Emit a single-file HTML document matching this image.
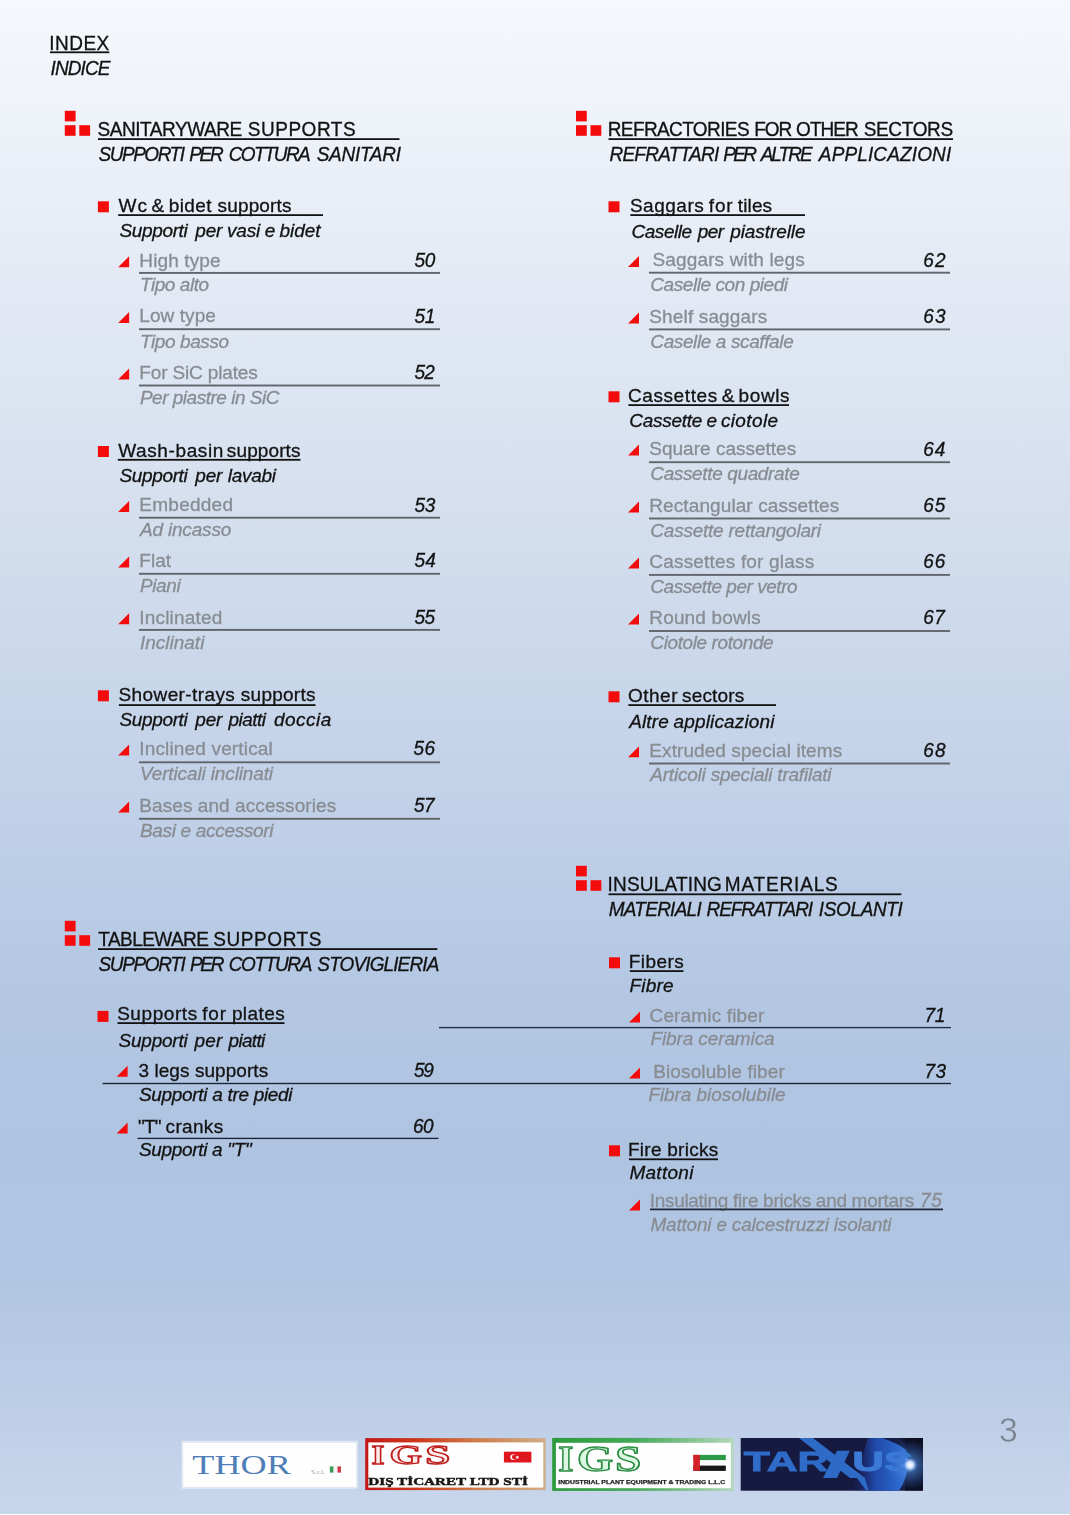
<!DOCTYPE html>
<html><head><meta charset="utf-8"><title>Index</title>
<style>
html,body{margin:0;padding:0}
body{width:1070px;height:1515px;position:relative;overflow:hidden;font-family:"Liberation Sans",sans-serif;background:#c8d6eb}
#bg{position:absolute;left:0;top:0;width:1070px;height:1515px;background:linear-gradient(to bottom,#f5f8fc 0px,#eef2f9 120px,#e2e9f4 300px,#d2dded 550px,#c1d1e8 800px,#b3c7e3 1000px,#afc4e1 1150px,#b1c6e2 1280px,#bccde6 1400px,#c9d7ec 1515px);}
.t{position:absolute;white-space:pre;font-weight:400;-webkit-text-stroke:0.3px currentColor}
.tri{position:absolute;left:0;top:0}
.tri path{fill:#f40c0c}
#pn{position:absolute;left:999.4px;top:1409.6px;font-size:35.7px;line-height:40px;color:#79818b;-webkit-text-stroke:0.55px #bdcee6;transform:scaleX(0.945);transform-origin:0 0}
#tx{position:absolute;left:0;top:0;width:1070px;height:1515px;will-change:transform}
</style></head><body>
<div id="bg"></div>
<div id="tx">
<div class="t" style="left:49.25px;top:33px;font-size:19px;line-height:21px;color:#121212;letter-spacing:0.469px;transform:scaleY(1.042);transform-origin:0 17px;">INDEX</div>
<div class="t" style="left:50.55px;top:58px;font-size:19px;line-height:21px;color:#121212;letter-spacing:-0.906px;transform:scaleY(1.042);transform-origin:0 17px;font-style:italic;">INDICE</div>
<div class="t" style="left:97.44px;top:119px;font-size:19px;line-height:21px;color:#121212;letter-spacing:-0.435px;transform:scaleY(1.042);transform-origin:0 17px;">SANITARYWARE</div>
<div class="t" style="left:247.84px;top:119px;font-size:19px;line-height:21px;color:#121212;letter-spacing:0.507px;transform:scaleY(1.042);transform-origin:0 17px;">SUPPORTS</div>
<div class="t" style="left:98.46px;top:144px;font-size:19px;line-height:21px;color:#121212;letter-spacing:-1.461px;transform:scaleY(1.042);transform-origin:0 17px;font-style:italic;">SUPPORTI</div>
<div class="t" style="left:189.22px;top:144px;font-size:19px;line-height:21px;color:#121212;letter-spacing:-2.305px;transform:scaleY(1.042);transform-origin:0 17px;font-style:italic;">PER</div>
<div class="t" style="left:228.75px;top:144px;font-size:19px;line-height:21px;color:#121212;letter-spacing:-1.660px;transform:scaleY(1.042);transform-origin:0 17px;font-style:italic;">COTTURA</div>
<div class="t" style="left:316.66px;top:144px;font-size:19px;line-height:21px;color:#121212;letter-spacing:-0.267px;transform:scaleY(1.042);transform-origin:0 17px;font-style:italic;">SANITARI</div>
<div class="t" style="left:118.62px;top:195px;font-size:19px;line-height:21px;color:#121212;letter-spacing:1.047px;">Wc</div>
<div class="t" style="left:151.53px;top:195px;font-size:19px;line-height:21px;color:#121212;letter-spacing:0.000px;">&amp;</div>
<div class="t" style="left:168.68px;top:195px;font-size:19px;line-height:21px;color:#121212;letter-spacing:0.440px;">bidet</div>
<div class="t" style="left:217.57px;top:195px;font-size:19px;line-height:21px;color:#121212;letter-spacing:0.149px;">supports</div>
<div class="t" style="left:119.46px;top:220px;font-size:19px;line-height:21px;color:#121212;letter-spacing:-0.353px;font-style:italic;">Supporti</div>
<div class="t" style="left:195.27px;top:220px;font-size:19px;line-height:21px;color:#121212;letter-spacing:-0.141px;font-style:italic;">per</div>
<div class="t" style="left:227.06px;top:220px;font-size:19px;line-height:21px;color:#121212;letter-spacing:-0.195px;font-style:italic;">vasi</div>
<div class="t" style="left:264.66px;top:220px;font-size:19px;line-height:21px;color:#121212;letter-spacing:0.000px;font-style:italic;">e</div>
<div class="t" style="left:279.43px;top:220px;font-size:19px;line-height:21px;color:#121212;letter-spacing:-0.023px;font-style:italic;">bidet</div>
<div class="t" style="left:139.30px;top:250px;font-size:19px;line-height:21px;color:#888c92;letter-spacing:0.120px;">High type</div>
<div class="t" style="left:414.57px;top:250px;font-size:19px;line-height:21px;color:#121212;letter-spacing:-0.456px;transform:scaleY(1.042);transform-origin:0 17px;font-style:italic;">50</div>
<div class="t" style="left:139.90px;top:274px;font-size:19px;line-height:21px;color:#888c92;letter-spacing:-0.439px;font-style:italic;">Tipo alto</div>
<div class="t" style="left:139.30px;top:305px;font-size:19px;line-height:21px;color:#888c92;letter-spacing:0.071px;">Low type</div>
<div class="t" style="left:414.57px;top:306px;font-size:19px;line-height:21px;color:#121212;letter-spacing:-0.400px;transform:scaleY(1.042);transform-origin:0 17px;font-style:italic;">51</div>
<div class="t" style="left:139.90px;top:331px;font-size:19px;line-height:21px;color:#888c92;letter-spacing:-0.398px;font-style:italic;">Tipo basso</div>
<div class="t" style="left:139.30px;top:362px;font-size:19px;line-height:21px;color:#888c92;letter-spacing:-0.153px;">For SiC plates</div>
<div class="t" style="left:414.57px;top:362px;font-size:19px;line-height:21px;color:#121212;letter-spacing:-0.936px;transform:scaleY(1.042);transform-origin:0 17px;font-style:italic;">52</div>
<div class="t" style="left:139.90px;top:387px;font-size:19px;line-height:21px;color:#888c92;letter-spacing:-0.491px;font-style:italic;">Per piastre in SiC</div>
<div class="t" style="left:118.22px;top:440px;font-size:19px;line-height:21px;color:#121212;letter-spacing:0.610px;">Wash-basin</div>
<div class="t" style="left:226.87px;top:440px;font-size:19px;line-height:21px;color:#121212;letter-spacing:0.106px;">supports</div>
<div class="t" style="left:119.46px;top:465px;font-size:19px;line-height:21px;color:#121212;letter-spacing:-0.353px;font-style:italic;">Supporti</div>
<div class="t" style="left:195.27px;top:465px;font-size:19px;line-height:21px;color:#121212;letter-spacing:-0.141px;font-style:italic;">per</div>
<div class="t" style="left:227.79px;top:465px;font-size:19px;line-height:21px;color:#121212;letter-spacing:-0.295px;font-style:italic;">lavabi</div>
<div class="t" style="left:139.30px;top:494px;font-size:19px;line-height:21px;color:#888c92;letter-spacing:0.260px;">Embedded</div>
<div class="t" style="left:414.57px;top:495px;font-size:19px;line-height:21px;color:#121212;letter-spacing:-0.447px;transform:scaleY(1.042);transform-origin:0 17px;font-style:italic;">53</div>
<div class="t" style="left:139.90px;top:519px;font-size:19px;line-height:21px;color:#888c92;letter-spacing:-0.172px;font-style:italic;">Ad incasso</div>
<div class="t" style="left:139.30px;top:550px;font-size:19px;line-height:21px;color:#888c92;letter-spacing:0.051px;">Flat</div>
<div class="t" style="left:414.57px;top:550px;font-size:19px;line-height:21px;color:#121212;letter-spacing:0.101px;transform:scaleY(1.042);transform-origin:0 17px;font-style:italic;">54</div>
<div class="t" style="left:139.90px;top:575px;font-size:19px;line-height:21px;color:#888c92;letter-spacing:-0.344px;font-style:italic;">Piani</div>
<div class="t" style="left:139.30px;top:607px;font-size:19px;line-height:21px;color:#888c92;letter-spacing:0.176px;">Inclinated</div>
<div class="t" style="left:414.57px;top:607px;font-size:19px;line-height:21px;color:#121212;letter-spacing:-0.660px;transform:scaleY(1.042);transform-origin:0 17px;font-style:italic;">55</div>
<div class="t" style="left:139.90px;top:632px;font-size:19px;line-height:21px;color:#888c92;letter-spacing:0.006px;font-style:italic;">Inclinati</div>
<div class="t" style="left:118.54px;top:684px;font-size:19px;line-height:21px;color:#121212;letter-spacing:0.393px;">Shower-trays</div>
<div class="t" style="left:240.87px;top:684px;font-size:19px;line-height:21px;color:#121212;letter-spacing:0.249px;">supports</div>
<div class="t" style="left:119.46px;top:709px;font-size:19px;line-height:21px;color:#121212;letter-spacing:-0.353px;font-style:italic;">Supporti</div>
<div class="t" style="left:195.27px;top:709px;font-size:19px;line-height:21px;color:#121212;letter-spacing:-0.141px;font-style:italic;">per</div>
<div class="t" style="left:228.57px;top:709px;font-size:19px;line-height:21px;color:#121212;letter-spacing:-0.568px;font-style:italic;">piatti</div>
<div class="t" style="left:274.06px;top:709px;font-size:19px;line-height:21px;color:#121212;letter-spacing:0.454px;font-style:italic;">doccia</div>
<div class="t" style="left:139.30px;top:738px;font-size:19px;line-height:21px;color:#888c92;letter-spacing:0.157px;">Inclined vertical</div>
<div class="t" style="left:413.57px;top:738px;font-size:19px;line-height:21px;color:#121212;letter-spacing:0.386px;transform:scaleY(1.042);transform-origin:0 17px;font-style:italic;">56</div>
<div class="t" style="left:139.90px;top:763px;font-size:19px;line-height:21px;color:#888c92;letter-spacing:-0.130px;font-style:italic;">Verticali inclinati</div>
<div class="t" style="left:139.30px;top:795px;font-size:19px;line-height:21px;color:#888c92;letter-spacing:0.075px;">Bases and accessories</div>
<div class="t" style="left:414.07px;top:795px;font-size:19px;line-height:21px;color:#121212;letter-spacing:-0.698px;transform:scaleY(1.042);transform-origin:0 17px;font-style:italic;">57</div>
<div class="t" style="left:139.90px;top:820px;font-size:19px;line-height:21px;color:#888c92;letter-spacing:-0.311px;font-style:italic;">Basi e accessori</div>
<div class="t" style="left:98.37px;top:929px;font-size:19px;line-height:21px;color:#121212;letter-spacing:-0.567px;transform:scaleY(1.042);transform-origin:0 17px;">TABLEWARE</div>
<div class="t" style="left:213.24px;top:929px;font-size:19px;line-height:21px;color:#121212;letter-spacing:0.578px;transform:scaleY(1.042);transform-origin:0 17px;">SUPPORTS</div>
<div class="t" style="left:98.46px;top:954px;font-size:19px;line-height:21px;color:#121212;letter-spacing:-1.361px;transform:scaleY(1.042);transform-origin:0 17px;font-style:italic;">SUPPORTI</div>
<div class="t" style="left:189.92px;top:954px;font-size:19px;line-height:21px;color:#121212;letter-spacing:-2.305px;transform:scaleY(1.042);transform-origin:0 17px;font-style:italic;">PER</div>
<div class="t" style="left:228.75px;top:954px;font-size:19px;line-height:21px;color:#121212;letter-spacing:-1.377px;transform:scaleY(1.042);transform-origin:0 17px;font-style:italic;">COTTURA</div>
<div class="t" style="left:317.36px;top:954px;font-size:19px;line-height:21px;color:#121212;letter-spacing:-0.880px;transform:scaleY(1.042);transform-origin:0 17px;font-style:italic;">STOVIGLIERIA</div>
<div class="t" style="left:117.14px;top:1003px;font-size:19px;line-height:21px;color:#121212;letter-spacing:0.572px;">Supports</div>
<div class="t" style="left:202.23px;top:1003px;font-size:19px;line-height:21px;color:#121212;letter-spacing:0.848px;">for</div>
<div class="t" style="left:231.88px;top:1003px;font-size:19px;line-height:21px;color:#121212;letter-spacing:0.422px;">plates</div>
<div class="t" style="left:118.46px;top:1030px;font-size:19px;line-height:21px;color:#121212;letter-spacing:-0.210px;font-style:italic;">Supporti</div>
<div class="t" style="left:194.57px;top:1030px;font-size:19px;line-height:21px;color:#121212;letter-spacing:0.209px;font-style:italic;">per</div>
<div class="t" style="left:228.57px;top:1030px;font-size:19px;line-height:21px;color:#121212;letter-spacing:-0.688px;font-style:italic;">piatti</div>
<div class="t" style="left:138.48px;top:1060px;font-size:19px;line-height:21px;color:#121212;letter-spacing:0.061px;">3 legs supports</div>
<div class="t" style="left:414.07px;top:1060px;font-size:19px;line-height:21px;color:#121212;letter-spacing:-1.324px;transform:scaleY(1.042);transform-origin:0 17px;font-style:italic;">59</div>
<div class="t" style="left:138.96px;top:1084px;font-size:19px;line-height:21px;color:#121212;letter-spacing:-0.310px;font-style:italic;">Supporti a tre piedi</div>
<div class="t" style="left:138.09px;top:1116px;font-size:19px;line-height:21px;color:#121212;letter-spacing:-0.898px;">&quot;T&quot;</div>
<div class="t" style="left:165.59px;top:1116px;font-size:19px;line-height:21px;color:#121212;letter-spacing:0.325px;">cranks</div>
<div class="t" style="left:412.93px;top:1116px;font-size:19px;line-height:21px;color:#121212;letter-spacing:-0.416px;transform:scaleY(1.042);transform-origin:0 17px;font-style:italic;">60</div>
<div class="t" style="left:138.96px;top:1139px;font-size:19px;line-height:21px;color:#121212;letter-spacing:-0.321px;font-style:italic;">Supporti a &quot;T&quot;</div>
<div class="t" style="left:607.74px;top:119px;font-size:19px;line-height:21px;color:#121212;letter-spacing:-0.608px;transform:scaleY(1.042);transform-origin:0 17px;">REFRACTORIES</div>
<div class="t" style="left:754.14px;top:119px;font-size:19px;line-height:21px;color:#121212;letter-spacing:-1.035px;transform:scaleY(1.042);transform-origin:0 17px;">FOR</div>
<div class="t" style="left:796.10px;top:119px;font-size:19px;line-height:21px;color:#121212;letter-spacing:-0.955px;transform:scaleY(1.042);transform-origin:0 17px;">OTHER</div>
<div class="t" style="left:863.64px;top:119px;font-size:19px;line-height:21px;color:#121212;letter-spacing:-0.330px;transform:scaleY(1.042);transform-origin:0 17px;">SECTORS</div>
<div class="t" style="left:609.42px;top:144px;font-size:19px;line-height:21px;color:#121212;letter-spacing:-0.730px;transform:scaleY(1.042);transform-origin:0 17px;font-style:italic;">REFRATTARI</div>
<div class="t" style="left:723.22px;top:144px;font-size:19px;line-height:21px;color:#121212;letter-spacing:-2.655px;transform:scaleY(1.042);transform-origin:0 17px;font-style:italic;">PER</div>
<div class="t" style="left:760.64px;top:144px;font-size:19px;line-height:21px;color:#121212;letter-spacing:-1.939px;transform:scaleY(1.042);transform-origin:0 17px;font-style:italic;">ALTRE</div>
<div class="t" style="left:818.84px;top:144px;font-size:19px;line-height:21px;color:#121212;letter-spacing:0.132px;transform:scaleY(1.042);transform-origin:0 17px;font-style:italic;">APPLICAZIONI</div>
<div class="t" style="left:629.94px;top:195px;font-size:19px;line-height:21px;color:#121212;letter-spacing:0.511px;">Saggars</div>
<div class="t" style="left:708.83px;top:195px;font-size:19px;line-height:21px;color:#121212;letter-spacing:0.848px;">for</div>
<div class="t" style="left:737.81px;top:195px;font-size:19px;line-height:21px;color:#121212;letter-spacing:0.119px;">tiles</div>
<div class="t" style="left:631.45px;top:221px;font-size:19px;line-height:21px;color:#121212;letter-spacing:-0.437px;font-style:italic;">Caselle</div>
<div class="t" style="left:697.67px;top:221px;font-size:19px;line-height:21px;color:#121212;letter-spacing:-0.491px;font-style:italic;">per</div>
<div class="t" style="left:730.27px;top:221px;font-size:19px;line-height:21px;color:#121212;letter-spacing:-0.091px;font-style:italic;">piastrelle</div>
<div class="t" style="left:652.54px;top:249px;font-size:19px;line-height:21px;color:#888c92;letter-spacing:0.136px;">Saggars with legs</div>
<div class="t" style="left:923.23px;top:250px;font-size:19px;line-height:21px;color:#121212;letter-spacing:1.305px;transform:scaleY(1.042);transform-origin:0 17px;font-style:italic;">62</div>
<div class="t" style="left:650.30px;top:274px;font-size:19px;line-height:21px;color:#888c92;letter-spacing:-0.433px;font-style:italic;">Caselle con piedi</div>
<div class="t" style="left:649.30px;top:306px;font-size:19px;line-height:21px;color:#888c92;letter-spacing:0.142px;">Shelf saggars</div>
<div class="t" style="left:923.23px;top:306px;font-size:19px;line-height:21px;color:#121212;letter-spacing:1.193px;transform:scaleY(1.042);transform-origin:0 17px;font-style:italic;">63</div>
<div class="t" style="left:650.30px;top:331px;font-size:19px;line-height:21px;color:#888c92;letter-spacing:-0.386px;font-style:italic;">Caselle a scaffale</div>
<div class="t" style="left:627.94px;top:385px;font-size:19px;line-height:21px;color:#121212;letter-spacing:0.596px;">Cassettes</div>
<div class="t" style="left:721.83px;top:385px;font-size:19px;line-height:21px;color:#121212;letter-spacing:0.000px;">&amp;</div>
<div class="t" style="left:738.58px;top:385px;font-size:19px;line-height:21px;color:#121212;letter-spacing:0.583px;">bowls</div>
<div class="t" style="left:629.35px;top:410px;font-size:19px;line-height:21px;color:#121212;letter-spacing:-0.304px;font-style:italic;">Cassette</div>
<div class="t" style="left:706.56px;top:410px;font-size:19px;line-height:21px;color:#121212;letter-spacing:0.000px;font-style:italic;">e</div>
<div class="t" style="left:720.88px;top:410px;font-size:19px;line-height:21px;color:#121212;letter-spacing:0.384px;font-style:italic;">ciotole</div>
<div class="t" style="left:649.30px;top:438px;font-size:19px;line-height:21px;color:#888c92;letter-spacing:0.005px;">Square cassettes</div>
<div class="t" style="left:923.23px;top:439px;font-size:19px;line-height:21px;color:#121212;letter-spacing:0.941px;transform:scaleY(1.042);transform-origin:0 17px;font-style:italic;">64</div>
<div class="t" style="left:650.30px;top:463px;font-size:19px;line-height:21px;color:#888c92;letter-spacing:-0.366px;font-style:italic;">Cassette quadrate</div>
<div class="t" style="left:649.30px;top:495px;font-size:19px;line-height:21px;color:#888c92;letter-spacing:0.094px;">Rectangular cassettes</div>
<div class="t" style="left:923.23px;top:495px;font-size:19px;line-height:21px;color:#121212;letter-spacing:0.980px;transform:scaleY(1.042);transform-origin:0 17px;font-style:italic;">65</div>
<div class="t" style="left:650.30px;top:520px;font-size:19px;line-height:21px;color:#888c92;letter-spacing:-0.228px;font-style:italic;">Cassette rettangolari</div>
<div class="t" style="left:649.30px;top:551px;font-size:19px;line-height:21px;color:#888c92;letter-spacing:0.184px;">Cassettes for glass</div>
<div class="t" style="left:923.23px;top:551px;font-size:19px;line-height:21px;color:#121212;letter-spacing:1.026px;transform:scaleY(1.042);transform-origin:0 17px;font-style:italic;">66</div>
<div class="t" style="left:650.30px;top:576px;font-size:19px;line-height:21px;color:#888c92;letter-spacing:-0.467px;font-style:italic;">Cassette per vetro</div>
<div class="t" style="left:649.30px;top:607px;font-size:19px;line-height:21px;color:#888c92;letter-spacing:0.154px;">Round bowls</div>
<div class="t" style="left:923.23px;top:607px;font-size:19px;line-height:21px;color:#121212;letter-spacing:0.442px;transform:scaleY(1.042);transform-origin:0 17px;font-style:italic;">67</div>
<div class="t" style="left:650.30px;top:632px;font-size:19px;line-height:21px;color:#888c92;letter-spacing:-0.391px;font-style:italic;">Ciotole rotonde</div>
<div class="t" style="left:628.00px;top:685px;font-size:19px;line-height:21px;color:#121212;letter-spacing:0.496px;">Other</div>
<div class="t" style="left:681.97px;top:685px;font-size:19px;line-height:21px;color:#121212;letter-spacing:0.178px;">sectors</div>
<div class="t" style="left:629.14px;top:711px;font-size:19px;line-height:21px;color:#121212;letter-spacing:0.172px;font-style:italic;">Altre</div>
<div class="t" style="left:673.47px;top:711px;font-size:19px;line-height:21px;color:#121212;letter-spacing:0.155px;font-style:italic;">applicazioni</div>
<div class="t" style="left:649.30px;top:740px;font-size:19px;line-height:21px;color:#888c92;letter-spacing:0.082px;">Extruded special items</div>
<div class="t" style="left:923.23px;top:740px;font-size:19px;line-height:21px;color:#121212;letter-spacing:1.138px;transform:scaleY(1.042);transform-origin:0 17px;font-style:italic;">68</div>
<div class="t" style="left:650.30px;top:764px;font-size:19px;line-height:21px;color:#888c92;letter-spacing:-0.217px;font-style:italic;">Articoli speciali trafilati</div>
<div class="t" style="left:607.55px;top:874px;font-size:19px;line-height:21px;color:#121212;letter-spacing:0.185px;transform:scaleY(1.042);transform-origin:0 17px;">INSULATING</div>
<div class="t" style="left:724.84px;top:874px;font-size:19px;line-height:21px;color:#121212;letter-spacing:0.831px;transform:scaleY(1.042);transform-origin:0 17px;">MATERIALS</div>
<div class="t" style="left:608.72px;top:899px;font-size:19px;line-height:21px;color:#121212;letter-spacing:-0.737px;transform:scaleY(1.042);transform-origin:0 17px;font-style:italic;">MATERIALI</div>
<div class="t" style="left:706.52px;top:899px;font-size:19px;line-height:21px;color:#121212;letter-spacing:-1.097px;transform:scaleY(1.042);transform-origin:0 17px;font-style:italic;">REFRATTARI</div>
<div class="t" style="left:818.85px;top:899px;font-size:19px;line-height:21px;color:#121212;letter-spacing:-0.373px;transform:scaleY(1.042);transform-origin:0 17px;font-style:italic;">ISOLANTI</div>
<div class="t" style="left:628.74px;top:951px;font-size:19px;line-height:21px;color:#121212;letter-spacing:0.430px;">Fibers</div>
<div class="t" style="left:629.42px;top:975px;font-size:19px;line-height:21px;color:#121212;letter-spacing:0.248px;font-style:italic;">Fibre</div>
<div class="t" style="left:649.54px;top:1005px;font-size:19px;line-height:21px;color:#888c92;letter-spacing:0.150px;">Ceramic fiber</div>
<div class="t" style="left:924.53px;top:1005px;font-size:19px;line-height:21px;color:#121212;letter-spacing:-0.400px;transform:scaleY(1.042);transform-origin:0 17px;font-style:italic;">71</div>
<div class="t" style="left:650.42px;top:1028px;font-size:19px;line-height:21px;color:#888c92;letter-spacing:-0.109px;font-style:italic;">Fibra ceramica</div>
<div class="t" style="left:653.24px;top:1061px;font-size:19px;line-height:21px;color:#888c92;letter-spacing:0.110px;">Biosoluble fiber</div>
<div class="t" style="left:924.53px;top:1061px;font-size:19px;line-height:21px;color:#121212;letter-spacing:0.493px;transform:scaleY(1.042);transform-origin:0 17px;font-style:italic;">73</div>
<div class="t" style="left:648.42px;top:1084px;font-size:19px;line-height:21px;color:#888c92;letter-spacing:-0.067px;font-style:italic;">Fibra biosolubile</div>
<div class="t" style="left:627.94px;top:1139px;font-size:19px;line-height:21px;color:#121212;letter-spacing:0.262px;">Fire bricks</div>
<div class="t" style="left:629.42px;top:1162px;font-size:19px;line-height:21px;color:#121212;letter-spacing:0.274px;font-style:italic;">Mattoni</div>
<div class="t" style="left:649.75px;top:1190px;font-size:19px;line-height:21px;color:#888c92;letter-spacing:-0.307px;">Insulating fire bricks and mortars</div>
<div class="t" style="left:920.03px;top:1190px;font-size:19px;line-height:21px;color:#888c92;letter-spacing:0.780px;transform:scaleY(1.042);transform-origin:0 17px;font-style:italic;">75</div>
<div class="t" style="left:650.42px;top:1214px;font-size:19px;line-height:21px;color:#888c92;letter-spacing:-0.198px;font-style:italic;">Mattoni e calcestruzzi isolanti</div>
<svg class="tri" width="1070" height="1515" viewBox="0 0 1070 1515"><rect x="50.00" y="51.40" width="59.30" height="1.80" fill="#121212"/><rect x="98.00" y="138.20" width="301.50" height="1.80" fill="#121212"/><rect x="118.20" y="214.20" width="204.80" height="1.80" fill="#121212"/><rect x="139.00" y="271.95" width="301.00" height="1.90" fill="#60656c"/><rect x="139.00" y="328.25" width="301.00" height="1.90" fill="#60656c"/><rect x="139.00" y="384.55" width="301.00" height="1.90" fill="#60656c"/><rect x="117.80" y="458.90" width="182.70" height="1.80" fill="#121212"/><rect x="139.00" y="516.75" width="301.00" height="1.90" fill="#60656c"/><rect x="139.00" y="572.85" width="301.00" height="1.90" fill="#60656c"/><rect x="139.00" y="628.95" width="301.00" height="1.90" fill="#60656c"/><rect x="118.90" y="704.20" width="196.60" height="1.80" fill="#121212"/><rect x="139.00" y="761.35" width="301.00" height="1.90" fill="#60656c"/><rect x="139.00" y="817.85" width="301.00" height="1.90" fill="#60656c"/><rect x="98.00" y="948.20" width="339.30" height="1.80" fill="#121212"/><rect x="117.50" y="1022.20" width="167.00" height="1.80" fill="#121212"/><rect x="102.50" y="1082.83" width="848.50" height="1.35" fill="#1a2236"/><rect x="137.50" y="1137.73" width="301.00" height="1.35" fill="#1a2236"/><rect x="439.00" y="1026.92" width="512.00" height="1.35" fill="#222a40"/><rect x="608.50" y="138.20" width="344.50" height="1.80" fill="#121212"/><rect x="630.30" y="214.20" width="174.70" height="1.80" fill="#121212"/><rect x="649.00" y="271.75" width="301.00" height="1.90" fill="#60656c"/><rect x="649.00" y="328.45" width="301.00" height="1.90" fill="#60656c"/><rect x="628.40" y="404.20" width="160.60" height="1.80" fill="#121212"/><rect x="649.00" y="461.25" width="301.00" height="1.90" fill="#60656c"/><rect x="649.00" y="517.55" width="301.00" height="1.90" fill="#60656c"/><rect x="649.00" y="573.95" width="301.00" height="1.90" fill="#60656c"/><rect x="649.00" y="630.05" width="301.00" height="1.90" fill="#60656c"/><rect x="628.40" y="704.20" width="147.60" height="1.80" fill="#121212"/><rect x="649.00" y="762.55" width="301.00" height="1.90" fill="#60656c"/><rect x="608.50" y="893.40" width="292.80" height="1.80" fill="#121212"/><rect x="629.80" y="970.20" width="53.70" height="1.80" fill="#121212"/><rect x="629.00" y="1158.40" width="89.00" height="1.80" fill="#121212"/><rect x="650.00" y="1208.50" width="293.00" height="1.80" fill="#222a3c"/><rect x="64.80" y="110.80" width="10.80" height="10.60" fill="#f40c0c"/><rect x="64.80" y="125.20" width="10.80" height="10.60" fill="#f40c0c"/><rect x="79.30" y="125.20" width="10.80" height="10.60" fill="#f40c0c"/><rect x="97.90" y="201.30" width="11.00" height="11.00" fill="#f40c0c"/><rect x="97.90" y="446.00" width="11.00" height="11.00" fill="#f40c0c"/><rect x="97.90" y="690.30" width="11.00" height="11.00" fill="#f40c0c"/><rect x="64.80" y="920.80" width="10.80" height="10.60" fill="#f40c0c"/><rect x="64.80" y="935.20" width="10.80" height="10.60" fill="#f40c0c"/><rect x="79.30" y="935.20" width="10.80" height="10.60" fill="#f40c0c"/><rect x="97.50" y="1010.90" width="11.00" height="11.00" fill="#f40c0c"/><rect x="576.00" y="110.80" width="10.80" height="10.60" fill="#f40c0c"/><rect x="576.00" y="125.20" width="10.80" height="10.60" fill="#f40c0c"/><rect x="590.50" y="125.20" width="10.80" height="10.60" fill="#f40c0c"/><rect x="608.50" y="201.30" width="11.00" height="11.00" fill="#f40c0c"/><rect x="608.50" y="391.30" width="11.00" height="11.00" fill="#f40c0c"/><rect x="608.50" y="691.30" width="11.00" height="11.00" fill="#f40c0c"/><rect x="576.00" y="865.80" width="10.80" height="10.60" fill="#f40c0c"/><rect x="576.00" y="880.20" width="10.80" height="10.60" fill="#f40c0c"/><rect x="590.50" y="880.20" width="10.80" height="10.60" fill="#f40c0c"/><rect x="609.00" y="957.30" width="11.00" height="11.00" fill="#f40c0c"/><rect x="609.00" y="1145.30" width="11.00" height="11.00" fill="#f40c0c"/><path d="M118.10 267.30L129.10 256.30V267.30Z"/><path d="M118.10 323.00L129.10 312.00V323.00Z"/><path d="M118.10 379.60L129.10 368.60V379.60Z"/><path d="M118.10 511.90L129.10 500.90V511.90Z"/><path d="M118.10 567.60L129.10 556.60V567.60Z"/><path d="M118.10 624.20L129.10 613.20V624.20Z"/><path d="M118.10 755.60L129.10 744.60V755.60Z"/><path d="M118.10 812.60L129.10 801.60V812.60Z"/><path d="M116.60 1076.80L127.60 1065.80V1076.80Z"/><path d="M116.60 1133.60L127.60 1122.60V1133.60Z"/><path d="M628.00 266.90L639.00 255.90V266.90Z"/><path d="M628.00 323.60L639.00 312.60V323.60Z"/><path d="M628.00 455.60L639.00 444.60V455.60Z"/><path d="M628.00 512.60L639.00 501.60V512.60Z"/><path d="M628.00 568.60L639.00 557.60V568.60Z"/><path d="M628.00 624.60L639.00 613.60V624.60Z"/><path d="M628.00 757.30L639.00 746.30V757.30Z"/><path d="M629.00 1022.60L640.00 1011.60V1022.60Z"/><path d="M629.00 1078.60L640.00 1067.60V1078.60Z"/><path d="M629.00 1210.40L640.00 1199.40V1210.40Z"/></svg>
</div>
<div style="position:absolute;left:0;top:1513px;width:1070px;height:1px;background:#ced9e7"></div><div style="position:absolute;left:0;top:1514px;width:1070px;height:1px;background:#fbfdfd"></div>
<div id="pn">3</div>
<svg class="lg" style="position:absolute;left:0;top:1430px" width="1070" height="85" viewBox="0 1430 1070 85">
<defs>
<linearGradient id="gT" x1="0" y1="0" x2="1" y2="0"><stop offset="0" stop-color="#c21818"/><stop offset="0.3" stop-color="#cc3a1c"/><stop offset="0.6" stop-color="#cf7a48"/><stop offset="1" stop-color="#cfae88"/></linearGradient>
<linearGradient id="gU" x1="0" y1="0" x2="1" y2="0"><stop offset="0" stop-color="#2c9a3c"/><stop offset="0.45" stop-color="#44a856"/><stop offset="1" stop-color="#b4d8bc"/></linearGradient>
<radialGradient id="gK"><stop offset="0" stop-color="#8fbcf5" stop-opacity="0.95"/><stop offset="0.3" stop-color="#4d8ae0" stop-opacity="0.6"/><stop offset="1" stop-color="#2a5fc0" stop-opacity="0"/></radialGradient>
<linearGradient id="gB" gradientUnits="userSpaceOnUse" x1="856" y1="0" x2="908" y2="0"><stop offset="0" stop-color="#1a2d78" stop-opacity="0.2"/><stop offset="0.35" stop-color="#1f47a6"/><stop offset="0.8" stop-color="#2b66cc"/><stop offset="1" stop-color="#3a7cdc"/></linearGradient>
<radialGradient id="gF"><stop offset="0" stop-color="#ffffff"/><stop offset="0.45" stop-color="#e4f0ff" stop-opacity="0.9"/><stop offset="1" stop-color="#7fb2f2" stop-opacity="0"/></radialGradient>
<clipPath id="cK"><rect x="740.7" y="1438" width="182.3" height="52.7"/></clipPath>
</defs>
<!-- THOR -->
<rect x="181.5" y="1440.8" width="176.3" height="48" fill="#e2e8f1"/>
<rect x="183.2" y="1443" width="173" height="43.8" fill="#fefefe"/>
<text x="192.3" y="1473.5" font-family="Liberation Serif, serif" font-size="28" fill="#4e7db7" textLength="98.5" lengthAdjust="spacingAndGlyphs">THOR</text>
<text x="311" y="1473.5" font-family="Liberation Serif, serif" font-size="6.5" fill="#a0a6ae" textLength="14" lengthAdjust="spacingAndGlyphs">S.r.l.</text>
<rect x="329.9" y="1466.4" width="3.7" height="6.2" fill="#3c9a55"/><rect x="333.6" y="1466.4" width="3.9" height="6.2" fill="#f4f4f4"/><rect x="337.5" y="1466.4" width="3.5" height="6.2" fill="#cf3b48"/>
<!-- IGS TR -->
<rect x="365.2" y="1438.1" width="180.5" height="52" fill="url(#gT)"/>
<rect x="368.3" y="1442.4" width="175" height="45.2" fill="#fefefe"/>
<g font-family="Liberation Serif, serif" font-weight="bold" font-size="27.5" fill="#fdecec" stroke="#bf201e" stroke-width="1.3" stroke-linejoin="round">
<text transform="translate(371.5,1464.1) scale(1.22,1)">I</text>
<text transform="translate(389.4,1464.1) scale(1.53,1)">G</text>
<text transform="translate(425.2,1464.1) scale(1.63,1)">S</text>
</g>
<rect x="503.9" y="1451.7" width="27.5" height="10.8" fill="#e0161d"/>
<circle cx="513.2" cy="1457.1" r="2.9" fill="#fff"/><circle cx="514.2" cy="1457.1" r="2.3" fill="#e0161d"/>
<path d="M517.3 1455.4l.55 1.2 1.3.15-.95.9.25 1.3-1.15-.65-1.15.65.25-1.3-.95-.9 1.3-.15z" fill="#fff"/>
<text x="368.3" y="1485.1" font-family="Liberation Serif, serif" font-weight="bold" font-size="11" fill="#1a1410" stroke="#1a1410" stroke-width="0.45" textLength="159.5" lengthAdjust="spacingAndGlyphs">DIŞ TİCARET LTD STİ</text>
<!-- IGS UAE -->
<rect x="552.2" y="1437.9" width="181.3" height="53" fill="url(#gU)"/>
<rect x="555.9" y="1442.8" width="175" height="45.4" fill="#fefefe"/>
<g font-family="Liberation Serif, serif" font-weight="bold" font-size="35" fill="#dcf7e1" stroke="#2a8c42" stroke-width="1.35" stroke-linejoin="round">
<text transform="translate(558.3,1470.6) scale(1.12,1)">I</text>
<text transform="translate(576.9,1470.6) scale(1.33,1)">G</text>
<text transform="translate(615.3,1470.6) scale(1.33,1)">S</text>
</g>
<rect x="693.3" y="1454.9" width="32.5" height="5.4" fill="#2a9a46"/><rect x="693.3" y="1460.3" width="32.5" height="5.3" fill="#fafafa"/><rect x="693.3" y="1465.6" width="32.5" height="5.3" fill="#161616"/><rect x="693.3" y="1454.9" width="6.6" height="16" fill="#d3202a"/>
<text x="558.3" y="1483.6" font-family="Liberation Sans, sans-serif" font-weight="bold" font-size="5.3" fill="#262626" stroke="#262626" stroke-width="0.25" textLength="167" lengthAdjust="spacingAndGlyphs">INDUSTRIAL PLANT EQUIPMENT &amp; TRADING L.L.C</text>
<!-- TARKUS -->
<rect x="740.7" y="1438" width="182.3" height="52.7" fill="#171a40"/>
<g clip-path="url(#cK)">
<rect x="905" y="1438" width="18" height="52.7" fill="#0c0d20"/>
<path d="M868 1438L901 1438Q916 1464 899 1491L852 1491Z" fill="url(#gB)"/>
<path d="M882 1438L903 1438Q906 1444 909 1452Q896 1442 882 1438Z" fill="#10122c" opacity="0.85"/>
<circle cx="909.5" cy="1465" r="26" fill="url(#gK)"/>
<g fill="#2f6cc9" stroke="#2f6cc9" stroke-width="0.9" font-family="Liberation Sans, sans-serif" font-weight="bold" font-size="28">
<text x="743.8" y="1471.2" textLength="84.5" lengthAdjust="spacingAndGlyphs">TAR</text>
<text x="852.3" y="1471.2" textLength="61" lengthAdjust="spacingAndGlyphs" fill="#3b7ad6" stroke="#3b7ad6">US</text>
</g>
<path d="M799 1438L813 1438 865 1478 868.5 1490.7 866.5 1490.7 857 1478 850 1478Z" fill="#2e6bc7"/>
<path d="M837 1450.8L849.8 1450.8 837 1478 823 1478Z" fill="#2e6bc7"/>
<circle cx="910" cy="1465" r="7" fill="url(#gF)"/>
</g>
</svg>

</body></html>
